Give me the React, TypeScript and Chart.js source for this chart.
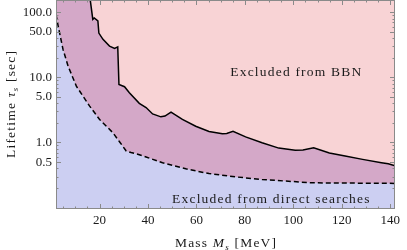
import React, { useEffect, useRef } from "react";
import { Chart, registerables } from "chart.js";
Chart.register(...registerables);

// BBN exclusion boundary (solid line)
const bbnMass = [16.0, 17.2, 17.8, 19.3, 19.7, 21.4, 24.1, 26.2, 27.5, 28.0, 30.3, 32.3, 36.4, 39.2, 41.9, 45.3, 47.0, 49.5, 54.2, 59.7, 65.2, 70.7, 72.5, 75.1, 80.3, 87.1, 94.0, 100.8, 104.0, 108.4, 114.9, 121.4, 128.6, 136.4, 139.2, 142.0];
const bbnLifetime = [170, 78, 82, 74, 48, 38.5, 30.3, 28, 29.5, 7.8, 7.2, 5.8, 4.0, 3.45, 2.75, 2.48, 2.55, 2.93, 2.26, 1.78, 1.48, 1.36, 1.38, 1.49, 1.22, 0.99, 0.82, 0.76, 0.77, 0.83, 0.69, 0.62, 0.55, 0.49, 0.47, 0.44];

// Direct-search exclusion boundary (dashed line)
const directMass = [2.0, 2.9, 4.9, 7.0, 10.4, 15.9, 20.0, 22.8, 25.5, 28.3, 31.0, 33.0, 35.1, 39.2, 46.0, 55.6, 65.2, 76.2, 87.1, 107.7, 142.0];
const directLifetime = [93, 61.6, 27, 14.9, 7.35, 3.62, 2.26, 1.78, 1.41, 1.02, 0.74, 0.70, 0.67, 0.60, 0.487, 0.394, 0.333, 0.296, 0.27, 0.24, 0.235];

const xMajorTicks = [20, 40, 60, 80, 100, 120, 140];
const xMinorTicks = [5, 10, 15, 25, 30, 35, 45, 50, 55, 65, 70, 75, 85, 90, 95, 105, 110, 115, 125, 130, 135];
const yMajorTicks = [0.5, 1, 5, 10, 50, 100];
const yMinorTicks = [0.1, 0.2, 0.3, 0.4, 0.6, 0.7, 0.8, 0.9, 2, 3, 4, 6, 7, 8, 9, 20, 30, 40, 60, 70, 80, 90];

const regionLabels = ["Excluded from BBN", "Excluded from direct searches"];
const regionLabelMass = [101, 90.7];
const regionLabelLifetime = [11.9, 0.133];

const X_MIN = 2;
const X_MAX = 142;
const Y_MIN = 0.095;
const Y_MAX = 155;

const FONT = '"Liberation Serif", "DejaVu Serif", serif';
const TEXT_COLOR = "#1a1a1a";
const FRAME_COLOR = "#8a8a8a";
const PINK = "#f8d3d5";
const PURPLE = "#d4a8c8";
const BLUE = "#cccff2";
const SPACING = 1.2;

type Seg = { t: string; italic?: boolean; sub?: boolean };

function segFont(s: Seg) {
  const size = s.sub ? 9 : 13.5;
  return `${s.italic ? "italic " : ""}${size}px ${FONT}`;
}

function segsWidth(ctx: CanvasRenderingContext2D, segs: Seg[]) {
  let w = 0;
  for (const s of segs) {
    ctx.font = segFont(s);
    for (const ch of s.t) w += ctx.measureText(ch).width + SPACING;
  }
  return w - SPACING;
}

function drawSegs(ctx: CanvasRenderingContext2D, segs: Seg[], x: number, y: number) {
  for (const s of segs) {
    ctx.font = segFont(s);
    for (const ch of s.t) {
      ctx.fillText(ch, x, y + (s.sub ? 3 : 0));
      x += ctx.measureText(ch).width + SPACING;
    }
  }
}

const xTitle: Seg[] = [{ t: "Mass " }, { t: "M", italic: true }, { t: "s", italic: true, sub: true }, { t: " [MeV]" }];
const yTitle: Seg[] = [{ t: "Lifetime " }, { t: "τ", italic: true }, { t: "s", italic: true, sub: true }, { t: " [sec]" }];

const backgroundPlugin = {
  id: "bgPurple",
  beforeDatasetsDraw(chart: any) {
    const { ctx, chartArea } = chart;
    ctx.save();
    ctx.fillStyle = PURPLE;
    ctx.fillRect(chartArea.left, chartArea.top, chartArea.right - chartArea.left, chartArea.bottom - chartArea.top);
    ctx.restore();
  },
};

const decorPlugin = {
  id: "decor",
  afterDatasetsDraw(chart: any) {
    const { ctx, chartArea } = chart;
    const xs = chart.scales.x;
    const ys = chart.scales.y;
    const { left, right, top, bottom } = chartArea;
    ctx.save();
    // frame
    ctx.strokeStyle = FRAME_COLOR;
    ctx.lineWidth = 1;
    ctx.strokeRect(left + 0.5, top + 0.5, right - left - 1, bottom - top - 1);
    ctx.beginPath();
    const xt = (vals: number[], len: number) => {
      for (const v of vals) {
        const px = Math.round(xs.getPixelForValue(v)) + 0.5;
        ctx.moveTo(px, bottom);
        ctx.lineTo(px, bottom - len);
        ctx.moveTo(px, top);
        ctx.lineTo(px, top + len);
      }
    };
    const yt = (vals: number[], len: number) => {
      for (const v of vals) {
        const py = Math.round(ys.getPixelForValue(v)) + 0.5;
        ctx.moveTo(left, py);
        ctx.lineTo(left + len, py);
        ctx.moveTo(right, py);
        ctx.lineTo(right - len, py);
      }
    };
    xt(xMajorTicks, 5);
    xt(xMinorTicks, 2.5);
    yt(yMajorTicks, 5);
    yt(yMinorTicks, 2.5);
    ctx.stroke();

    // region labels
    ctx.fillStyle = TEXT_COLOR;
    ctx.textBaseline = "middle";
    ctx.textAlign = "left";
    for (let i = 0; i < regionLabels.length; i++) {
      const segs: Seg[] = [{ t: regionLabels[i] }];
      ctx.font = segFont(segs[0]);
      const w = segsWidth(ctx, segs);
      const cx = xs.getPixelForValue(regionLabelMass[i]);
      const cy = ys.getPixelForValue(regionLabelLifetime[i]);
      drawSegs(ctx, segs, cx - w / 2, cy);
    }

    // axis titles
    ctx.textBaseline = "alphabetic";
    const wx = segsWidth(ctx, xTitle);
    drawSegs(ctx, xTitle, (left + right) / 2 - wx / 2, 247);

    const wy = segsWidth(ctx, yTitle);
    ctx.translate(15, (top + bottom) / 2);
    ctx.rotate(-Math.PI / 2);
    drawSegs(ctx, yTitle, -wy / 2, 0);
    ctx.restore();
  },
};

export default function App() {
  const canvasRef = useRef<HTMLCanvasElement | null>(null);

  useEffect(() => {
    const canvas = canvasRef.current;
    if (!canvas) return;
    const bbnData = bbnMass.map((m, i) => ({ x: m, y: bbnLifetime[i] }));
    const directData = directMass.map((m, i) => ({ x: m, y: directLifetime[i] }));

    const chart = new Chart(canvas, {
      type: "line",
      data: {
        datasets: [
          {
            label: "BBN",
            data: bbnData,
            borderColor: "#000",
            borderWidth: 1.5,
            backgroundColor: PINK,
            fill: "end",
            pointRadius: 0,
            tension: 0,
            clip: 0,
          },
          {
            label: "Direct searches",
            data: directData,
            borderColor: "#000",
            borderWidth: 1.5,
            borderDash: [5, 3],
            backgroundColor: BLUE,
            fill: "start",
            pointRadius: 0,
            tension: 0,
            clip: 0,
          },
        ],
      },
      options: {
        animation: false,
        responsive: false,
        maintainAspectRatio: false,
        parsing: false as any,
        layout: { padding: { top: 0, right: 12, left: 0, bottom: 0 } },
        plugins: {
          legend: { display: false },
          tooltip: { enabled: false },
          title: { display: false },
        },
        scales: {
          x: {
            type: "linear",
            min: X_MIN,
            max: X_MAX,
            grid: { display: false, drawTicks: false },
            border: { display: false },
            afterBuildTicks: (scale: any) => {
              scale.ticks = xMajorTicks.map((v) => ({ value: v }));
            },
            afterFit: (scale: any) => {
              scale.height = 41;
              scale.paddingLeft = 0;
              scale.paddingRight = 0;
            },
            ticks: {
              autoSkip: false,
              maxRotation: 0,
              padding: 4,
              color: TEXT_COLOR,
              font: { family: FONT, size: 13 },
              callback: (v: any) => String(v),
            },
          },
          y: {
            type: "logarithmic",
            min: Y_MIN,
            max: Y_MAX,
            grid: { display: false, drawTicks: false },
            border: { display: false },
            afterBuildTicks: (scale: any) => {
              scale.ticks = yMajorTicks.map((v) => ({ value: v }));
            },
            afterFit: (scale: any) => {
              scale.width = 56;
              scale.paddingTop = 0;
              scale.paddingBottom = 0;
            },
            ticks: {
              autoSkip: false,
              padding: 4,
              color: TEXT_COLOR,
              font: { family: FONT, size: 13 },
              callback: (v: any) => Number(v).toFixed(1),
            },
          },
        },
      },
      plugins: [backgroundPlugin, decorPlugin],
    } as any);

    return () => chart.destroy();
  }, []);

  return (
    <div style={{ position: "absolute", left: 0, top: 0, width: 407, height: 250, background: "#fff" }}>
      <canvas ref={canvasRef} width={407} height={250} style={{ display: "block", width: 407, height: 250 }} />
    </div>
  );
}
